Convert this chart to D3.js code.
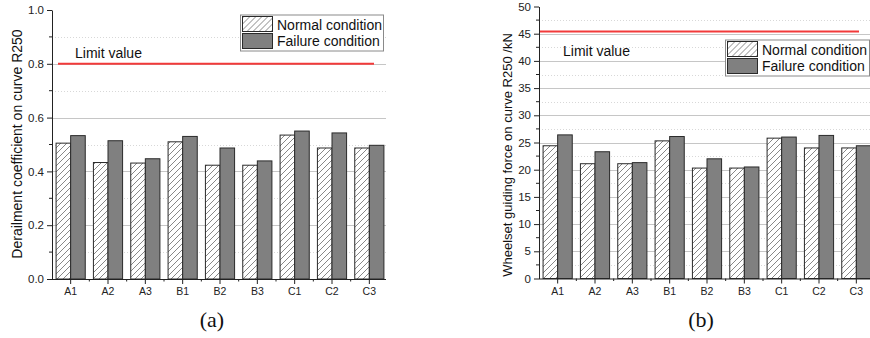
<!DOCTYPE html>
<html><head><meta charset="utf-8">
<script src="https://cdn.jsdelivr.net/npm/d3@7"></script>
<style>body{margin:0;background:#fff}svg{display:block}</style>
</head><body>
<svg id="c" width="870" height="338"></svg>
<script>
const categories = ["A1","A2","A3","B1","B2","B3","C1","C2","C3"];
const seriesNames = ["Normal condition","Failure condition"];
// Panel (a): derailment coefficient
const normalA = [0.505,0.433,0.431,0.510,0.423,0.423,0.535,0.487,0.487];
const failureA = [0.533,0.514,0.447,0.530,0.487,0.439,0.550,0.543,0.497];
const limitA = 0.8;
const yTicksA = [0,0.2,0.4,0.6,0.8,1.0];
// Panel (b): wheelset guiding force (kN)
const normalB = [24.4,21.1,21.1,25.3,20.3,20.3,25.8,24.0,24.0];
const failureB = [26.4,23.3,21.3,26.1,22.0,20.5,26.0,26.3,24.4];
const limitB = 45.4;
const yTicksB = [0,5,10,15,20,25,30,35,40,45,50];

const svg = d3.select("#c");
const FONT = "'Liberation Sans', Arial, sans-serif";
const defs = svg.append("defs");
const pat = defs.append("pattern").attr("id","hatch").attr("patternUnits","userSpaceOnUse")
  .attr("width",6).attr("height",6);
pat.append("rect").attr("width",6).attr("height",6).attr("fill","#fff");
pat.append("path").attr("d","M-1,7 L7,-1 M-1,1 L1,-1 M5,7 L7,5").attr("stroke","#6a6a6a").attr("stroke-width",0.8);

function panel(o){
  const g = svg.append("g");
  const x = d3.scaleBand().domain(categories).range([o.x0, o.x0 + 336]).padding(0);
  const xs = d3.scaleBand().domain(["n","f"]).range([0, x.bandwidth()]).paddingInner(0).paddingOuter(0.28);
  const y = d3.scaleLinear().domain(o.domain).range([o.yBottom, o.yTop]);
  const right = o.xRight;
  // grids
  const minorVals = d3.range(o.domain[0] + o.minor, o.domain[1], o.major);
  g.selectAll(".gm").data(minorVals).enter().append("line")
    .attr("x1", o.x0).attr("x2", right).attr("y1", d=>Math.round(y(d))+0.5).attr("y2", d=>Math.round(y(d))+0.5)
    .attr("stroke","#d8d8d8").attr("stroke-width",1).attr("stroke-dasharray","1,2");
  const majorGrid = o.ticks.filter(d=>d>o.domain[0] && d<o.domain[1]);
  g.selectAll(".gM").data(majorGrid).enter().append("line")
    .attr("x1", o.x0).attr("x2", right).attr("y1", d=>Math.round(y(d))+0.5).attr("y2", d=>Math.round(y(d))+0.5)
    .attr("stroke","#c6c6c6").attr("stroke-width",1);
  // limit line
  g.append("line").attr("x1", o.limX1).attr("x2", o.limX2).attr("y1", y(o.limit)).attr("y2", y(o.limit))
    .attr("stroke","#f23a3a").attr("stroke-width",2);
  g.append("text").attr("x", o.limTextX).attr("y", o.limTextY).text("Limit value")
    .attr("font-family",FONT).attr("font-size",14).attr("fill","#111");
  // bars
  const bars = g.append("g");
  categories.forEach((c,i)=>{
    bars.append("rect").attr("x", x(c)+xs("n")).attr("y", y(o.normal[i])).attr("width", xs.bandwidth())
      .attr("height", y(0)-y(o.normal[i])).attr("fill","url(#hatch)").attr("stroke","#2a2a2a").attr("stroke-width",1);
    bars.append("rect").attr("x", x(c)+xs("f")).attr("y", y(o.failure[i])).attr("width", xs.bandwidth())
      .attr("height", y(0)-y(o.failure[i])).attr("fill","#808080").attr("stroke","#2a2a2a").attr("stroke-width",1);
  });
  // y axis
  const yAxis = g.append("g").attr("transform",`translate(${o.x0},0)`)
    .call(d3.axisLeft(y).tickValues(o.ticks).tickFormat(o.fmt).tickSize(5).tickSizeOuter(0));
  yAxis.select(".domain").attr("stroke","#222");
  yAxis.selectAll(".tick line").attr("stroke","#222");
  yAxis.selectAll("text").attr("font-family",FONT).attr("font-size",11.5).attr("fill","#222").attr("x",-8);
  const minorTicks = d3.range(o.domain[0] + o.minor, o.domain[1], o.major);
  yAxis.selectAll(".mt").data(minorTicks).enter().append("line")
    .attr("x1",-3).attr("x2",0).attr("y1",d=>y(d)).attr("y2",d=>y(d)).attr("stroke","#222");
  // x axis
  const xAxis = g.append("g").attr("transform",`translate(0,${o.yBottom})`)
    .call(d3.axisBottom(x).tickSize(5).tickSizeOuter(0).tickPadding(4));
  xAxis.select(".domain").attr("stroke","#222").attr("d",`M${o.x0},0.5H${right}`);
  xAxis.selectAll(".tick line").attr("stroke","#222");
  xAxis.selectAll("text").attr("font-family",FONT).attr("font-size",10.5).attr("fill","#222");
  xAxis.selectAll(".mx").data(categories.slice(1)).enter().append("line")
    .attr("x1",d=>x(d)).attr("x2",d=>x(d)).attr("y1",0).attr("y2",2.5).attr("stroke","#222");
  // y label
  g.append("text").attr("transform",`translate(${o.labelX},${o.labelY}) rotate(-90)`)
    .attr("text-anchor","middle").attr("font-family",FONT).attr("font-size",o.labelSize).attr("fill","#111")
    .text(o.label);
  // legend
  const L = g.append("g").attr("transform",`translate(${o.legX},${o.legY})`);
  L.append("rect").attr("x",0.5).attr("y",0.5).attr("width",o.legW).attr("height",36).attr("fill","#fff")
    .attr("stroke","#8a8a8a").attr("stroke-width",1);
  L.append("rect").attr("x",2.5).attr("y",2).attr("width",30).attr("height",15).attr("fill","url(#hatch)")
    .attr("stroke","#2a2a2a");
  L.append("rect").attr("x",2.5).attr("y",19).attr("width",30).attr("height",15).attr("fill","#808080")
    .attr("stroke","#2a2a2a");
  seriesNames.forEach((s,i)=>{
    L.append("text").attr("x",37).attr("y",15 + i*16).text(s).attr("font-family",FONT).attr("font-size",14).attr("fill","#111");
  });
  // caption
  g.append("text").attr("x",o.capX).attr("y",327).attr("text-anchor","middle")
    .attr("font-family","'Liberation Serif','Times New Roman',serif").attr("font-size",22).attr("fill","#111").text(o.cap);
}

panel({x0:52, xRight:386, yBottom:279, yTop:10, domain:[0,1], ticks:yTicksA, major:0.2, minor:0.1,
  fmt:d3.format(".1f"), normal:normalA, failure:failureA, limit:limitA,
  limX1:58, limX2:374, limTextX:75, limTextY:57.5,
  label:"Derailment coefficient on curve R250", labelX:22, labelY:144, labelSize:14,
  legX:240, legY:14.5, legW:143, capX:212, cap:"(a)"});

panel({x0:539, xRight:870, yBottom:278.5, yTop:6.5, domain:[0,50], ticks:yTicksB, major:5, minor:2.5,
  fmt:d3.format("d"), normal:normalB, failure:failureB, limit:limitB,
  limX1:540, limX2:859, limTextX:563, limTextY:56,
  label:"Wheelset guiding force on curve R250 /kN", labelX:512, labelY:155, labelSize:13,
  legX:725, legY:39.5, legW:144, capX:701, cap:"(b)"});
</script>
</body></html>
